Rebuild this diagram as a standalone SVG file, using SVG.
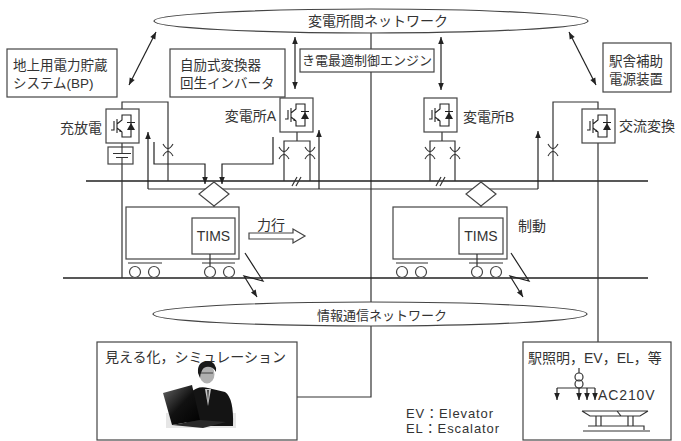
<svg xmlns="http://www.w3.org/2000/svg" width="681" height="441" viewBox="0 0 681 441">
  <style>
    .ln { fill: none; stroke: #333; stroke-width: 1.2; }
    .bx { fill: #fff; stroke: #444; stroke-width: 1.2; }
    .rail { fill: none; stroke: #222; stroke-width: 1.3; }
    .tx { font-family: "Liberation Sans", "Noto Sans CJK JP", sans-serif; font-size: 14px; fill: #333; }
    .sm { font-size: 13px; }
    .two { font-size: 13.5px; }
    .wide { letter-spacing: 0.9px; }
    .arr { fill: none; stroke: #222; stroke-width: 1.2; }
  </style>
  <defs>
    <marker id="ah" viewBox="0 0 10 10" refX="10" refY="5" markerWidth="8" markerHeight="7" orient="auto-start-reverse" markerUnits="userSpaceOnUse">
      <path d="M0,1 L10,5 L0,9 z" fill="#222"/>
    </marker>
    <!-- IGBT converter box, 33 x 34 -->
    <g id="igbt">
      <rect x="0" y="0" width="33" height="34" class="bx"/>
      <path d="M5,21 H8 V12 M11,10 V24 M11,15 L16,11 V6 H25 V28 H16 V23 L11,19 M21,13.5 H29" fill="none" stroke="#222" stroke-width="1.1"/>
      <path d="M21,21 L29,21 L25,14 z" fill="#222"/>
      <path d="M16,23 L13,22.5 L14.5,20.5 z" fill="#222"/>
    </g>
    <!-- circuit breaker mark, centred on a vertical line -->
    <g id="brk">
      <path d="M-5,-6 Q0,3 5,-6 M-5,6 Q0,-3 5,6" fill="none" stroke="#333" stroke-width="1.1"/>
    </g>
    <linearGradient id="scr" x1="0" y1="0" x2="1" y2="1">
      <stop offset="0" stop-color="#666"/>
      <stop offset="0.5" stop-color="#111"/>
      <stop offset="1" stop-color="#000"/>
    </linearGradient>
  </defs>

  <!-- connectors -->
  <g id="connectors">
    <!-- trunk from substation network down to information network and PC -->
    <path class="ln" d="M371,33 V302 M371,326 V397 H297"/>
    <!-- rails -->
    <path class="rail" d="M86,181 H648 M63,278 H648"/>
    <!-- feeder return line -->
    <path class="ln" d="M148,189 H538"/>
    <!-- rail cut marks -->
    <path class="ln" d="M292,186 L297,177 M296,186 L301,177 M436,186 L441,177 M440,186 L445,177"/>
    <!-- BP connection -->
    <path class="ln" d="M122,109 V102 H168 V181"/>
    <path class="ln" d="M122,143 V147 M122,164 V278"/>
    <!-- substation A feeders -->
    <path class="ln" d="M297,132 V141 M284,181 V141 H310 V181"/>
    <!-- substation B feeders -->
    <path class="ln" d="M442,132 V141 M430,181 V141 H455 V181"/>
    <!-- AC converter connection -->
    <path class="ln" d="M598,109 V102 H553 V181 M598,143 V342"/>
    <!-- signal lines into the onboard node -->
    <path class="arr" d="M154,142 V164 H205 V184" marker-end="url(#ah)"/>
    <path class="arr" d="M273,137 V164 H222 V184" marker-end="url(#ah)"/>
    <!-- regeneration up-arrows -->
    <path class="arr" d="M148,189 V132" marker-end="url(#ah)"/>
    <path class="arr" d="M319,189 V130" marker-end="url(#ah)"/>
    <path class="arr" d="M538,189 V131" marker-end="url(#ah)"/>
    <!-- network links -->
    <path class="arr" d="M156,32 L129,85" marker-start="url(#ah)" marker-end="url(#ah)"/>
    <path class="arr" d="M295,37 V89" marker-start="url(#ah)" marker-end="url(#ah)"/>
    <path class="arr" d="M441,37 V90" marker-start="url(#ah)" marker-end="url(#ah)"/>
    <path class="arr" d="M569,32 L596,85" marker-start="url(#ah)" marker-end="url(#ah)"/>
    <!-- wireless links -->
    <path class="arr" d="M245,253 L263,281 L244,276 L257,297" marker-end="url(#ah)"/>
    <path class="arr" d="M511,253 L529,281 L510,276 L523,297" marker-end="url(#ah)"/>
    <!-- breakers -->
    <use href="#brk" x="168" y="150"/>
    <use href="#brk" x="284" y="153"/>
    <use href="#brk" x="310" y="153"/>
    <use href="#brk" x="430" y="153"/>
    <use href="#brk" x="455" y="153"/>
    <use href="#brk" x="553" y="150"/>
  </g>

  <!-- inter-substation network -->
  <g id="net-top">
    <ellipse cx="371" cy="21" rx="217" ry="12" class="bx"/>
    <text class="tx" x="308" y="26">変電所間ネットワーク</text>
  </g>

  <!-- information network -->
  <g id="net-info">
    <ellipse cx="370" cy="314" rx="217" ry="12" class="bx"/>
    <text class="tx sm" x="317" y="320">情報通信ネットワーク</text>
  </g>

  <g id="engine">
    <rect x="300" y="49" width="134" height="23" class="bx"/>
    <text class="tx sm" x="302" y="65">き電最適制御エンジン</text>
  </g>

  <g id="bp">
    <rect x="7" y="49" width="110" height="48" class="bx"/>
    <text class="tx two" x="13" y="70">地上用電力貯蔵</text>
    <text class="tx two" x="13" y="88">システム(BP)</text>
  </g>

  <g id="inverter">
    <rect x="170" y="49" width="115" height="48" class="bx"/>
    <text class="tx two" x="180" y="70">自励式変換器</text>
    <text class="tx two" x="180" y="88">回生インバータ</text>
  </g>

  <g id="aux-power">
    <rect x="603" y="43" width="68" height="49" class="bx"/>
    <text class="tx two" x="609" y="66">駅舎補助</text>
    <text class="tx two" x="609" y="84">電源装置</text>
  </g>

  <g id="charger">
    <use href="#igbt" x="106" y="109"/>
    <rect x="108" y="147" width="25" height="17" class="bx"/>
    <path d="M122,147 V153.5 M113,153.5 H131 M116,157.5 H128 M122,157.5 V164" fill="none" stroke="#333" stroke-width="1.1"/>
    <text class="tx" x="60" y="133">充放電</text>
  </g>

  <g id="substation-a">
    <use href="#igbt" x="280" y="98"/>
    <text class="tx" x="276" y="121" text-anchor="end">変電所A</text>
  </g>

  <g id="substation-b">
    <use href="#igbt" x="424" y="98"/>
    <text class="tx" x="463" y="122">変電所B</text>
  </g>

  <g id="ac-converter">
    <use href="#igbt" x="582" y="109"/>
    <text class="tx" x="619" y="131">交流変換</text>
  </g>

  <g id="node-1">
    <path d="M214,182 L229,194 L214,206 L199,194 z" class="bx"/>
  </g>
  <g id="node-2">
    <path d="M481,182 L496,194 L481,206 L466,194 z" class="bx"/>
  </g>

  <g id="train-1">
    <path class="ln" d="M214,206 V218"/>
    <rect x="126" y="207" width="113" height="52" class="bx"/>
    <rect x="192" y="218" width="43" height="36" class="bx"/>
    <text class="tx" x="213.5" y="241" text-anchor="middle">TIMS</text>
    <path class="ln" d="M210,254 V266 M128,263 H162 M202,263 H235"/>
    <circle cx="135" cy="272" r="5.5" class="bx"/>
    <circle cx="154" cy="272" r="5.5" class="bx"/>
    <circle cx="210" cy="272" r="5.5" class="bx"/>
    <circle cx="229" cy="272" r="5.5" class="bx"/>
  </g>

  <g id="powering">
    <text class="tx" x="257" y="230">力行</text>
    <path d="M249,233 H293 V229 L305,236 L293,243 V239 H249 z" class="bx"/>
  </g>

  <g id="train-2">
    <path class="ln" d="M481,206 V218"/>
    <rect x="393" y="207" width="114" height="52" class="bx"/>
    <rect x="459" y="218" width="44" height="36" class="bx"/>
    <text class="tx" x="481" y="241" text-anchor="middle">TIMS</text>
    <path class="ln" d="M477,254 V266 M396,263 H428 M469,263 H503"/>
    <circle cx="402" cy="272" r="5.5" class="bx"/>
    <circle cx="421" cy="272" r="5.5" class="bx"/>
    <circle cx="477" cy="272" r="5.5" class="bx"/>
    <circle cx="496" cy="272" r="5.5" class="bx"/>
    <text class="tx" x="518" y="231">制動</text>
  </g>

  <g id="visualization">
    <rect x="97" y="342" width="200" height="98" class="bx"/>
    <text class="tx" x="105" y="362">見える化，シミュレーション</text>
    <!-- operator at a laptop -->
    <rect x="166" y="413" width="70" height="15" fill="#e6e6e6"/>
    <path d="M190,393 Q198,385 208,388 L225,392 Q234,398 233,426 L186,426 Z" fill="#141414"/>
    <path d="M205,389 L211,389 L208,406 z" fill="#c8c8c8"/>
    <path d="M207,390 L209,390 L208,402 z" fill="#444"/>
    <ellipse cx="207" cy="374" rx="7.5" ry="9.5" fill="#b0b0b0"/>
    <path d="M200,373 H213" stroke="#555" stroke-width="1.2"/>
    <path d="M198,373 Q197,361 208,361 Q217,362 216,372 Q213,366 206,367 Q201,368 200,378 z" fill="#1a1a1a"/>
    <path d="M163,393 L192,385 L200,420 L172,425 z" fill="url(#scr)"/>
    <path d="M172,425 L200,420 L226,422 L203,428 z" fill="#2a2a2a"/>
  </g>

  <g id="station-load">
    <rect x="523" y="342" width="148" height="98" class="bx"/>
    <text class="tx" x="528" y="363">駅照明，EV，EL，等</text>
    <path class="ln" d="M579,368 V373 M557,388 H595"/>
    <circle cx="579" cy="377" r="4" class="ln"/>
    <circle cx="579" cy="384" r="4" class="ln"/>
    <path class="arr" d="M557,388 V400" marker-end="url(#ah)"/>
    <path class="arr" d="M579,388 V400" marker-end="url(#ah)"/>
    <path class="arr" d="M587,388 V400" marker-end="url(#ah)"/>
    <path class="arr" d="M595,388 V400" marker-end="url(#ah)"/>
    <text class="tx wide" x="598" y="400">AC210V</text>
    <!-- escalator symbol -->
    <path class="ln" d="M582,411 H648 M582,411 L590,416 H640 L648,411 M617,411 L621,416"/>
    <path class="ln" d="M596,416 V426 M601,416 V426 M628,416 V426 M633,416 V426"/>
    <path class="ln" d="M588,426 H644 V430 M583,431 H650"/>
  </g>

  <g id="legend">
    <text class="tx sm wide" x="406" y="418">EV：Elevator</text>
    <text class="tx sm wide" x="406" y="433">EL：Escalator</text>
  </g>
</svg>
